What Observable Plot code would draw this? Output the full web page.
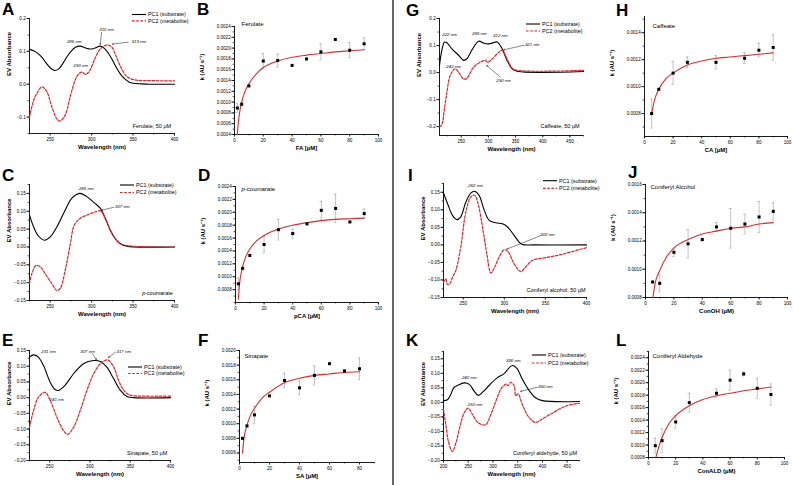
<!DOCTYPE html>
<html><head><meta charset="utf-8">
<script src="https://cdn.jsdelivr.net/npm/d3@7"></script>
<script src="https://cdn.jsdelivr.net/npm/@observablehq/plot@0.6"></script>
<style>
html,body{margin:0;padding:0;background:#fff;}
#page{position:relative;width:793px;height:485px;overflow:hidden;background:#fff;font-family:"Liberation Sans",Arial,sans-serif;}
#page svg{position:absolute;}
</style>
</head><body><div id="page"></div>
<script>
// ---------------- DATA ----------------
// Panel A – Ferulate spectra
const A_pc1_nm = [225,230,235,240,245,250,255,260,265,270,275,280,286,292,298,304,310,315,320,325,330,335,340,345,350,360,370,400];
const A_pc1_ab = [0.106,0.102,0.094,0.082,0.065,0.05,0.042,0.046,0.062,0.083,0.1,0.112,0.116,0.111,0.107,0.11,0.116,0.11,0.095,0.074,0.05,0.03,0.016,0.007,0.003,0.001,0,0];
const A_pc2_nm = [225,230,235,240,246,252,258,262,268,274,280,284,288,293,298,304,310,318,324,329,335,341,347,355,370,400];
const A_pc2_ab = [-0.1,-0.049,-0.023,-0.008,-0.023,-0.069,-0.105,-0.112,-0.094,-0.039,0.012,0.03,0.037,0.03,0.043,0.078,0.106,0.119,0.114,0.088,0.053,0.027,0.017,0.012,0.011,0.01];
const A_note_txt = ["286 nm","310 nm","319 nm","290 nm"];
const A_note_x = [279,318,357,287];
const A_note_y = [0.129,0.166,0.129,0.056];
// Panel C – p-coumarate spectra
const C_pc1_nm = [225,230,236,243,250,258,268,276,285.5,294,304,310.5,316.5,322.5,328.6,334.6,342.7,350.7,400];
const C_pc1_ab = [0.089,0.056,0.03,0.019,0.028,0.056,0.103,0.136,0.15,0.141,0.122,0.108,0.08,0.047,0.023,0.009,0.002,0,0];
const C_pc2_nm = [225,227.8,233,238,244,252,258,262,268,274,279,286,294,304,310.5,316.5,322.5,328.6,334.6,350.7,400];
const C_pc2_ab = [-0.103,-0.075,-0.052,-0.056,-0.075,-0.103,-0.122,-0.117,-0.066,0.005,0.061,0.08,0.089,0.098,0.101,0.08,0.047,0.023,0.009,0.002,0];
const C_note_txt = ["285 nm","307 nm"];
const C_note_x = [293.5,337];
const C_note_y = [0.164,0.112];
// Panel E – Sinapate spectra
const E_pc1_nm = [225,230,236,242.4,250.7,257,261,269,279.7,292,304.6,313,321,329.5,337.8,346,354.4,400];
const E_pc1_ab = [0.129,0.136,0.129,0.102,0.049,0.025,0.023,0.039,0.076,0.108,0.118,0.115,0.097,0.06,0.023,0.004,0,0];
const E_pc2_nm = [225,230,236,244.5,250.7,259,267.3,272.3,279.7,288,296.3,304.6,313,322,329.5,335.7,342,348,354.4,400];
const E_pc2_ab = [-0.094,-0.041,0.001,0.017,-0.009,-0.062,-0.105,-0.117,-0.094,-0.041,0.023,0.076,0.108,0.12,0.097,0.054,0.023,0.01,0.006,0.005];
const E_note_txt = ["231 nm","307 nm","317 nm","241 nm"];
const E_note_x = [248.6,297,342,259];
const E_note_y = [0.146,0.146,0.146,-0.007];
// Panel G – Caffeate spectra
const G_pc1_nm = [210,214.3,219.2,223.6,232.8,245.1,254.4,260.5,269.8,282.1,291.3,298.7,306.7,316,325.2,334.4,343.7,352.9,475];
const G_pc1_ab = [0.026,0.082,0.113,0.11,0.088,0.064,0.045,0.051,0.084,0.116,0.109,0.106,0.109,0.113,0.088,0.045,0.014,0.005,0.004];
const G_pc2_nm = [210,214.3,218.6,223.6,229.7,239,245.1,254.4,260.5,272.8,285.2,294.4,298.7,306.7,319,325.2,334.4,343.7,352.9,475];
const G_pc2_ab = [-0.2,-0.193,-0.141,-0.073,-0.011,0.014,0.001,-0.024,-0.021,0.02,0.038,0.045,0.038,0.05,0.075,0.082,0.05,0.016,0.008,0.008];
const G_note_txt = ["222 nm","286 nm","312 nm","321 nm","242 nm","290 nm"];
const G_note_x = [228.5,283.3,322,380.6,236,328];
const G_note_y = [0.141,0.144,0.136,0.105,0.022,-0.03];
// Panel I – Coniferyl alcohol spectra
const I_pc1_nm = [226,230.9,237,242.2,247,253.2,259.3,264,269.4,275.5,281.6,289.7,297.8,303.9,312,318,322,336.3,400];
const I_pc1_ab = [0.148,0.118,0.084,0.072,0.08,0.122,0.148,0.153,0.141,0.099,0.07,0.063,0.06,0.051,0.027,0.008,0.001,0,0];
const I_pc2_nm = [226,228.8,230.9,234,237,241,247,253.2,259.3,264,268,273.4,278.7,283.6,288.4,293.7,299.8,304.7,312,320,326,334.3,348.5,364.7,381,400];
const I_pc2_ab = [-0.106,-0.097,-0.113,-0.109,-0.092,-0.073,-0.006,0.094,0.137,0.141,0.118,0.051,-0.025,-0.08,-0.063,-0.035,-0.014,-0.02,-0.054,-0.076,-0.063,-0.044,-0.037,-0.03,-0.02,-0.008];
const I_note_txt = ["262 nm","300 nm"];
const I_note_x = [265,352.5];
const I_note_y = [0.168,0.03];
// Panel K – Coniferyl aldehyde spectra
const K_pc1_nm = [200,208,214,221.5,228,242,252,262,270,279,292,309,322,339,349,359,373,386,400,475];
const K_pc1_ab = [0.006,0.009,0.025,0.052,0.058,0.067,0.062,0.039,0.024,0.035,0.058,0.085,0.098,0.127,0.116,0.081,0.041,0.016,0.006,0.003];
const K_pc2_nm = [200,205,210,218,225,233,242,250,258,270,285,295,305,316,321,326,331,336,343,346,351,359,373,386,400,423,450,475];
const K_pc2_ab = [-0.023,-0.08,-0.135,-0.169,-0.14,-0.085,-0.035,-0.02,-0.04,-0.07,-0.077,-0.045,0.0,0.046,0.055,0.063,0.058,0.069,0.057,0.023,0.029,-0.006,-0.052,-0.069,-0.057,-0.034,-0.011,-0.003];
const K_note_txt = ["336 nm","240 nm","250 nm","350 nm"];
const K_note_x = [341,252,264,406];
const K_note_y = [0.144,0.085,-0.006,0.056];

// Kinetics: substrate concentration, rate k, error, fitted curve
const B_x = [2,5,10,20,30,40,50,60,70,80,90];
const B_k = [0.00089,0.00096,0.0013,0.00176,0.00177,0.00168,0.0018,0.00193,0.00216,0.00196,0.00208];
const B_err = [0.00008,0.00003,0,0.00014,0.00012,0,0,0.00015,0,0.00014,0.00011];
const B_fitX = [1.9,2.5,3,4,5,7,10,15,20,30,40,50,60,70,80,90];
const B_fitK = [0.0004,0.00058,0.0007,0.00088,0.001,0.00118,0.00134,0.00152,0.00164,0.00176,0.00183,0.00187,0.0019,0.00193,0.00195,0.00197];

const D_x = [2,5,10,20,30,40,50,60,70,80,90];
const D_k = [0.00089,0.00113,0.00133,0.0015,0.00173,0.00167,0.00182,0.00203,0.00206,0.00185,0.00198];
const D_err = [0.00009,0,0,0.00013,0.00016,0.00007,0,0.00014,0.00022,0,0.00007];
const D_fitX = [2,2.5,3,4,5,7,10,15,20,30,40,50,60,70,80,90];
const D_fitK = [0.00065,0.0008,0.00092,0.00106,0.00116,0.0013,0.00143,0.00156,0.00164,0.00174,0.0018,0.00184,0.00187,0.00189,0.0019,0.00191];

const F_x = [2,5,10,20,30,40,50,60,70,80];
const F_k = [0.0008,0.00097,0.00112,0.00138,0.00159,0.00149,0.00166,0.00182,0.00172,0.00175];
const F_err = [0,0,0.00012,0,0.0001,0.00009,0.00013,0,0.00002,0.00015];
const F_fitX = [2,3,5,7,10,15,20,30,40,50,60,70,80];
const F_fitK = [0.0006,0.0008,0.00098,0.0011,0.00121,0.00135,0.00143,0.00156,0.00162,0.00166,0.00168,0.0017,0.00171];

const H_x = [5,10,20,30,50,70,80,90];
const H_k = [0.0008,0.00098,0.0011,0.00118,0.00118,0.00121,0.00127,0.00129];
const H_err = [0.000107,0,0.000085,0.00004,0.00005,0.00004,0.00005,0.000095];
const H_fitX = [5,7,10,15,20,30,40,50,60,70,80,90];
const H_fitK = [0.0008,0.0009,0.00098,0.00106,0.0011,0.00116,0.00119,0.00121,0.00122,0.00123,0.00124,0.00125];

const J_x = [5,10,20,30,40,50,60,70,80,90];
const J_k = [0.00091,0.0009,0.00112,0.00118,0.00121,0.0013,0.00129,0.00132,0.00137,0.00141];
const J_err = [0,0.00006,0.00003,0.0001,0.00001,0.00003,0.00014,0.00007,0.00011,0.00006];
const J_fitX = [5.2,7,10,15,20,30,40,50,60,70,80,90];
const J_fitK = [0.0008,0.00091,0.00099,0.00109,0.00115,0.00121,0.00125,0.00127,0.00129,0.0013,0.00132,0.00133];

const L_x = [5,10,20,30,50,60,70,80,90];
const L_k = [0.00099,0.00107,0.00137,0.00168,0.00183,0.00204,0.00214,0.00191,0.00181];
const L_err = [0.00012,0.00019,0.0001,0.00015,0.00007,0.00016,0.00003,0.00016,0.00017];
const L_fitX = [5.4,7,10,15,20,30,40,50,60,70,80,90];
const L_fitK = [0.0008,0.00093,0.00112,0.00134,0.00147,0.00163,0.00173,0.00179,0.00183,0.00187,0.0019,0.00193];

// tick values
const specX_ticks = [250,300,350,400];
const specK_ticks = [200,250,300,350,400,450];
const kinX_ticks = [0,20,40,60,80,100];
const kinX_ticksF = [0,20,40,60,80];

// ---------------- DRAWING ----------------
const FONT = '"Liberation Sans", Arial, Helvetica, sans-serif';
const RED = "#e2222a";
const FITRED = "#dd2a2e";
const page = document.getElementById("page");
const zip = (xs, ys) => xs.map((x, i) => ({x, y: ys[i]}));
const notes = (t, xs, ys) => t.map((s, i) => ({t: s, x: xs[i], y: ys[i]}));
const range = (a, b, s) => d3.range(Math.round(a / s), Math.round(b / s) + 1).map(i => +(i * s).toFixed(6));

function mount(fr, xd, yd, marks) {
  const ML = 44, MR = 16, MT = 14, MB = 26;
  const svg = Plot.plot({
    width: fr.x1 - fr.x0 + ML + MR, height: fr.y1 - fr.y0 + MT + MB,
    marginLeft: ML, marginRight: MR, marginTop: MT, marginBottom: MB,
    x: {domain: xd}, y: {domain: yd},
    style: {background: "transparent", overflow: "visible", fontFamily: FONT, fontSize: "4.6px", color: "#000"},
    marks
  });
  svg.style.position = "absolute";
  svg.style.left = (fr.x0 - ML) + "px";
  svg.style.top = (fr.y0 - MT) + "px";
  page.appendChild(svg);
}

function axes(xd, yd, xt, xm, yt, ym, xf, yf, xlab, ylab, ydx) {
  return [
    Plot.axisX({ticks: xm, tickSize: 1.4, tickFormat: () => "", label: null, strokeWidth: 0.7}),
    Plot.axisY({ticks: ym, tickSize: 1.4, tickFormat: () => "", label: null, strokeWidth: 0.7}),
    Plot.axisX({ticks: xt, tickSize: 2.6, tickPadding: 1.2, tickFormat: xf, label: null, strokeWidth: 0.8, fontSize: 4.6}),
    Plot.axisY({ticks: yt, tickSize: 2.6, tickPadding: 1.2, tickFormat: yf, label: null, strokeWidth: 0.8, fontSize: 4.6}),
    Plot.ruleX([xd[0]], {stroke: "#000", strokeWidth: 0.9}),
    Plot.ruleY([yd[0]], {stroke: "#000", strokeWidth: 0.9}),
    Plot.text([xlab], {frameAnchor: "bottom", dy: 15, fontWeight: "bold", fontSize: 6}),
    Plot.text([ylab], {frameAnchor: "left", rotate: -90, dx: ydx, fontWeight: "bold", fontSize: 6})
  ];
}

function spectrum(o) {
  const marks = axes(o.xd, o.yd, o.xt, o.xm, o.yt, o.ym, d3.format("d"), d3.format(o.yfmt),
    "Wavelength (nm)", "EV Absorbance", -20);
  marks.push(
    Plot.line(o.pc1, {x: "x", y: "y", curve: "catmull-rom", stroke: "#000", strokeWidth: 1.1}),
    Plot.line(o.pc2, {x: "x", y: "y", curve: "catmull-rom", stroke: RED, strokeWidth: 1.2, strokeDasharray: "2.6,1.6"}),
    Plot.text(o.notes, {x: "x", y: "y", text: "t", fontSize: 4.4, fontStyle: "italic", fill: "#111"})
  );
  if (o.arrows) marks.push(Plot.arrow(o.arrows, {x1: "x1", y1: "y1", x2: "x2", y2: "y2", stroke: "#222", strokeWidth: 0.55, headLength: 3.2}));
  if (o.cond) marks.push(Plot.text([o.cond], {x: o.condXY[0], y: o.condXY[1], textAnchor: "end", fontSize: 5.5}));
  if (o.condItalic) {
    marks.push(Plot.text([o.condItalic[1]], {x: o.condXY[0], y: o.condXY[1], textAnchor: "end", fontSize: 5.5}));
    marks.push(Plot.text([o.condItalic[0]], {x: o.condXY[0], y: o.condXY[1], textAnchor: "end", fontSize: 5.5, fontStyle: "italic", dx: -27.6}));
  }
  mount(o.fr, o.xd, o.yd, marks);
}

function kinetics(o) {
  const pts = o.x.map((x, i) => ({x, y: o.k[i], e: o.err[i]}));
  const eb = pts.filter(d => d.e > 0);
  const cap = (o.xd[1] - o.xd[0]) * 0.009;
  const marks = axes(o.xd, o.yd, o.xt, o.xm, o.yt, o.ym, d3.format("d"), d3.format(".4f"), o.xlab, "k (AU s\u207B\u00B9)", -32);
  marks.push(
    Plot.ruleX(eb, {x: "x", y1: d => d.y - d.e, y2: d => d.y + d.e, stroke: "#9a9a9a", strokeWidth: 0.6}),
    Plot.ruleY(eb, {y: d => d.y + d.e, x1: d => d.x - cap, x2: d => d.x + cap, stroke: "#9a9a9a", strokeWidth: 0.6}),
    Plot.ruleY(eb, {y: d => d.y - d.e, x1: d => d.x - cap, x2: d => d.x + cap, stroke: "#9a9a9a", strokeWidth: 0.6}),
    Plot.line(zip(o.fitX, o.fitK), {x: "x", y: "y", curve: "monotone-x", stroke: FITRED, strokeWidth: 1.1}),
    Plot.dot(pts, {x: "x", y: "y", symbol: "square", fill: "#000", r: 1.7})
  );
  if (o.titleItalic) {
    marks.push(Plot.text([o.titleItalic[0]], {frameAnchor: "top-left", dx: o.tdx, dy: o.tdy, textAnchor: "start", fontSize: 6, fontStyle: "italic"}));
    marks.push(Plot.text([o.titleItalic[1]], {frameAnchor: "top-left", dx: o.tdx + 3.3, dy: o.tdy, textAnchor: "start", fontSize: 6}));
  } else {
    marks.push(Plot.text([o.title], {frameAnchor: "top-left", dx: o.tdx, dy: o.tdy, textAnchor: "start", fontSize: 6}));
  }
  mount(o.fr, o.xd, o.yd, marks);
}

// Spectra panels
spectrum({fr: {x0: 29, x1: 174, y0: 18, y1: 133}, xd: [225, 400], yd: [-0.15, 0.2],
  xt: specX_ticks, xm: range(225, 400, 25), yt: range(-0.1, 0.2, 0.1), ym: range(-0.15, 0.2, 0.05), yfmt: ".1f",
  pc1: zip(A_pc1_nm, A_pc1_ab), pc2: zip(A_pc2_nm, A_pc2_ab), notes: notes(A_note_txt, A_note_x, A_note_y),
  arrows: [{x1: 312, y1: 0.158, x2: 310.5, y2: 0.121}, {x1: 344, y1: 0.128, x2: 325, y2: 0.122}],
  cond: "Ferulate, 50 \u00B5M", condXY: [396, -0.128]});

spectrum({fr: {x0: 29, x1: 174, y0: 184, y1: 300}, xd: [225, 400], yd: [-0.15, 0.175],
  xt: specX_ticks, xm: range(225, 400, 25), yt: range(-0.15, 0.15, 0.05), ym: range(-0.15, 0.175, 0.025), yfmt: ".2f",
  pc1: zip(C_pc1_nm, C_pc1_ab), pc2: zip(C_pc2_nm, C_pc2_ab), notes: notes(C_note_txt, C_note_x, C_note_y),
  arrows: [{x1: 326.5, y1: 0.111, x2: 312, y2: 0.103}],
  condItalic: ["p", "-coumarate"], condXY: [398, -0.131]});

spectrum({fr: {x0: 29, x1: 170, y0: 350, y1: 460}, xd: [225, 400], yd: [-0.2, 0.15],
  xt: specX_ticks, xm: range(225, 400, 25), yt: range(-0.2, 0.15, 0.05), ym: range(-0.2, 0.15, 0.025), yfmt: ".2f",
  pc1: zip(E_pc1_nm, E_pc1_ab), pc2: zip(E_pc2_nm, E_pc2_ab), notes: notes(E_note_txt, E_note_x, E_note_y),
  arrows: [{x1: 303, y1: 0.14, x2: 308, y2: 0.121}, {x1: 331.6, y1: 0.144, x2: 323, y2: 0.128}],
  cond: "Sinapate, 50 \u00B5M", condXY: [396, -0.177]});

spectrum({fr: {x0: 439, x1: 583, y0: 18, y1: 135}, xd: [210, 475], yd: [-0.233, 0.2],
  xt: [250, 300, 350, 400, 450], xm: range(225, 475, 25), yt: range(-0.2, 0.2, 0.1), ym: range(-0.2, 0.2, 0.05), yfmt: ".1f",
  pc1: zip(G_pc1_nm, G_pc1_ab), pc2: zip(G_pc2_nm, G_pc2_ab), notes: notes(G_note_txt, G_note_x, G_note_y),
  arrows: [{x1: 366, y1: 0.101, x2: 328, y2: 0.084}, {x1: 322, y1: -0.017, x2: 297, y2: 0.026}],
  cond: "Caffeate, 50 \u00B5M", condXY: [468, -0.2]});

spectrum({fr: {x0: 443, x1: 586, y0: 183, y1: 297}, xd: [226, 400], yd: [-0.15, 0.175],
  xt: specX_ticks, xm: range(250, 400, 25), yt: range(-0.15, 0.15, 0.05), ym: range(-0.15, 0.175, 0.025), yfmt: ".2f",
  pc1: zip(I_pc1_nm, I_pc1_ab), pc2: zip(I_pc2_nm, I_pc2_ab), notes: notes(I_note_txt, I_note_x, I_note_y),
  arrows: [{x1: 344, y1: 0.026, x2: 303, y2: -0.012}],
  cond: "Coniferyl alcohol, 50 \u00B5M", condXY: [399, -0.13]});

spectrum({fr: {x0: 443, x1: 579, y0: 351, y1: 460}, xd: [200, 475], yd: [-0.2, 0.175],
  xt: specK_ticks, xm: range(200, 475, 25), yt: range(-0.2, 0.15, 0.05), ym: range(-0.2, 0.175, 0.025), yfmt: ".2f",
  pc1: zip(K_pc1_nm, K_pc1_ab), pc2: zip(K_pc2_nm, K_pc2_ab), notes: notes(K_note_txt, K_note_x, K_note_y),
  arrows: [{x1: 390, y1: 0.052, x2: 356, y2: 0.038}],
  cond: "Coniferyl aldehyde, 50 \u00B5M", condXY: [470, -0.175]});

// Kinetics panels
kinetics({fr: {x0: 234, x1: 378, y0: 26, y1: 134}, xd: [0, 100], yd: [0.0004, 0.0024],
  xt: kinX_ticks, xm: range(0, 100, 10), yt: range(0.0004, 0.0024, 0.0002), ym: range(0.0004, 0.0024, 0.0001),
  x: B_x, k: B_k, err: B_err, fitX: B_fitX, fitK: B_fitK, xlab: "FA [\u00B5M]", title: "Ferulate", tdx: 7, tdy: -5});

kinetics({fr: {x0: 235, x1: 378, y0: 186, y1: 302}, xd: [0, 100], yd: [0.0006, 0.0024],
  xt: kinX_ticks, xm: range(0, 100, 10), yt: range(0.0008, 0.0024, 0.0002), ym: range(0.0006, 0.0024, 0.0001),
  x: D_x, k: D_k, err: D_err, fitX: D_fitX, fitK: D_fitK, xlab: "pCA [\u00B5M]", titleItalic: ["p", "-coumarate"], tdx: 6, tdy: 0});

kinetics({fr: {x0: 239, x1: 374, y0: 350, y1: 462}, xd: [0, 90], yd: [0.00047, 0.002],
  xt: kinX_ticksF, xm: range(0, 90, 10), yt: range(0.0006, 0.002, 0.0002), ym: range(0.0005, 0.002, 0.0001),
  x: F_x, k: F_k, err: F_err, fitX: F_fitX, fitK: F_fitK, xlab: "SA [\u00B5M]", title: "Sinapate", tdx: 5, tdy: 3});

kinetics({fr: {x0: 644, x1: 787, y0: 16, y1: 136}, xd: [0, 100], yd: [0.00063, 0.00152],
  xt: kinX_ticks, xm: range(0, 100, 10), yt: range(0.0008, 0.0014, 0.0002), ym: range(0.0007, 0.0015, 0.0001),
  x: H_x, k: H_k, err: H_err, fitX: H_fitX, fitK: H_fitK, xlab: "CA [\u00B5M]", title: "Caffeate", tdx: 8, tdy: 7});

kinetics({fr: {x0: 645, x1: 787, y0: 184, y1: 297}, xd: [0, 100], yd: [0.0008, 0.0016],
  xt: kinX_ticks, xm: range(0, 100, 10), yt: range(0.0008, 0.0016, 0.0002), ym: range(0.0008, 0.0016, 0.0001),
  x: J_x, k: J_k, err: J_err, fitX: J_fitX, fitK: J_fitK, xlab: "ConOH (\u00B5M)", title: "Coniferyl Alcohol", tdx: 5, tdy: 0});

kinetics({fr: {x0: 648, x1: 784, y0: 351, y1: 457}, xd: [0, 100], yd: [0.0008, 0.0025],
  xt: kinX_ticks, xm: range(0, 100, 10), yt: range(0.0008, 0.0024, 0.0002), ym: range(0.0008, 0.0025, 0.0001),
  x: L_x, k: L_k, err: L_err, fitX: L_fitX, fitK: L_fitK, xlab: "ConALD (\u00B5M)", title: "Coniferyl Aldehyde", tdx: 4, tdy: 2});

// ---------------- OVERLAY: divider, panel letters, legends ----------------
const ov = d3.select(page).append("svg").attr("width", 793).attr("height", 485)
  .style("left", "0px").style("top", "0px").style("font-family", FONT);
ov.append("line").attr("x1", 393).attr("x2", 393).attr("y1", 0).attr("y2", 485).attr("stroke", "#000").attr("stroke-width", 1.2);
const letters = [["A", 2, 15], ["B", 197, 15], ["C", 2, 181], ["D", 198, 181], ["E", 2, 346], ["F", 198, 346],
  ["G", 406, 16], ["H", 616, 16], ["I", 408, 181], ["J", 628, 178], ["K", 406, 346], ["L", 616, 346]];
ov.selectAll("text.lt").data(letters).join("text").attr("class", "lt")
  .attr("x", d => d[1]).attr("y", d => d[2]).attr("font-size", 17).attr("font-weight", "bold").text(d => d[0]);
function legend(x, y1, y2) {
  const g = ov.append("g").attr("font-size", 5.4);
  g.append("line").attr("x1", x).attr("x2", x + 14).attr("y1", y1).attr("y2", y1).attr("stroke", "#000").attr("stroke-width", 1.1);
  g.append("line").attr("x1", x).attr("x2", x + 14).attr("y1", y2).attr("y2", y2).attr("stroke", RED).attr("stroke-width", 1.2).attr("stroke-dasharray", "2.6,1.6");
  g.append("text").attr("x", x + 16).attr("y", y1).attr("dy", "0.35em").text("PC1 (substrate)");
  g.append("text").attr("x", x + 16).attr("y", y2).attr("dy", "0.35em").text("PC2 (metabolite)");
}
legend(132, 14.5, 20.8);
legend(120, 185, 192.5);
legend(128, 367, 373.5);
legend(526, 24, 31);
legend(543, 180.7, 188.3);
legend(532, 355, 363);
</script>
</body></html>
